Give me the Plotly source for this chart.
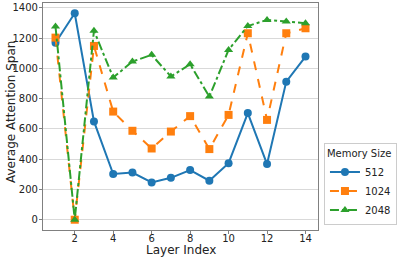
import plotly.graph_objects as go

layers = list(range(1, 15))
span_512 = [1170, 1365, 650, 302, 312, 246, 277, 328, 258, 374, 705, 368, 913, 1079]
span_1024 = [1204, 0, 1149, 715, 588, 471, 583, 685, 467, 693, 1233, 660, 1233, 1266]
span_2048 = [1277, 0, 1250, 940, 1046, 1090, 947, 1028, 814, 1123, 1281, 1321, 1310, 1299]
series_names = ["512", "1024", "2048"]
colors = ["#1f77b4", "#ff7f0e", "#2ca02c"]
dashes = ["solid", "dash", "dashdot"]
symbols = ["circle", "square", "triangle-up"]

fig = go.Figure()
for name, ys, c, d, s in zip(series_names, [span_512, span_1024, span_2048], colors, dashes, symbols):
    fig.add_trace(go.Scatter(
        x=layers, y=ys, name=name, mode="lines+markers",
        line=dict(color=c, width=2, dash=d),
        marker=dict(color=c, symbol=s, size=8, line=dict(width=0)),
    ))

font = "DejaVu Sans"
fig.update_layout(
    width=399, height=259,
    margin=dict(l=43, r=80, t=3, b=29),
    paper_bgcolor="white", plot_bgcolor="white",
    font=dict(family=font, size=10, color="#222222"),
    showlegend=True,
    legend=dict(
        title=dict(text="Memory Size", font=dict(size=10, family=font), side="top"),
        x=1.018, xanchor="left", y=0.02, yanchor="bottom",
        bordercolor="#cccccc", borderwidth=1, bgcolor="white",
        font=dict(size=10, family=font), itemwidth=30, tracegroupgap=0,
    ),
    xaxis=dict(
        range=[0.35, 14.65], tickvals=[2, 4, 6, 8, 10, 12, 14],
        showgrid=False, zeroline=False,
        showline=True, linecolor="#808080", linewidth=1.2, mirror=True,
        ticks="outside", ticklen=3, tickcolor="#808080",
        ticklabelstandoff=-4,
        automargin=False,
    ),
    yaxis=dict(
        range=[-68, 1433], tickvals=[0, 200, 400, 600, 800, 1000, 1200, 1400],
        showgrid=True, gridcolor="#d9d9d9", gridwidth=1, zeroline=False,
        showline=True, linecolor="#808080", linewidth=1.2, mirror=True,
        ticks="outside", ticklen=3, tickcolor="#808080",
        ticklabelstandoff=-1,
        automargin=False,
    ),
    annotations=[
        dict(text="Layer Index", xref="paper", yref="paper", x=0.5, y=-0.09,
             xanchor="center", yanchor="middle", showarrow=False,
             font=dict(size=12, family=font, color="#222222")),
        dict(text="Average Attention Span", xref="paper", yref="paper", x=-0.116, y=0.52,
             xanchor="center", yanchor="middle", showarrow=False, textangle=-90,
             font=dict(size=12, family=font, color="#222222")),
    ],
)
fig.write_html("out.html", config={"displayModeBar": False},
               post_script="document.body.style.margin='0';")
